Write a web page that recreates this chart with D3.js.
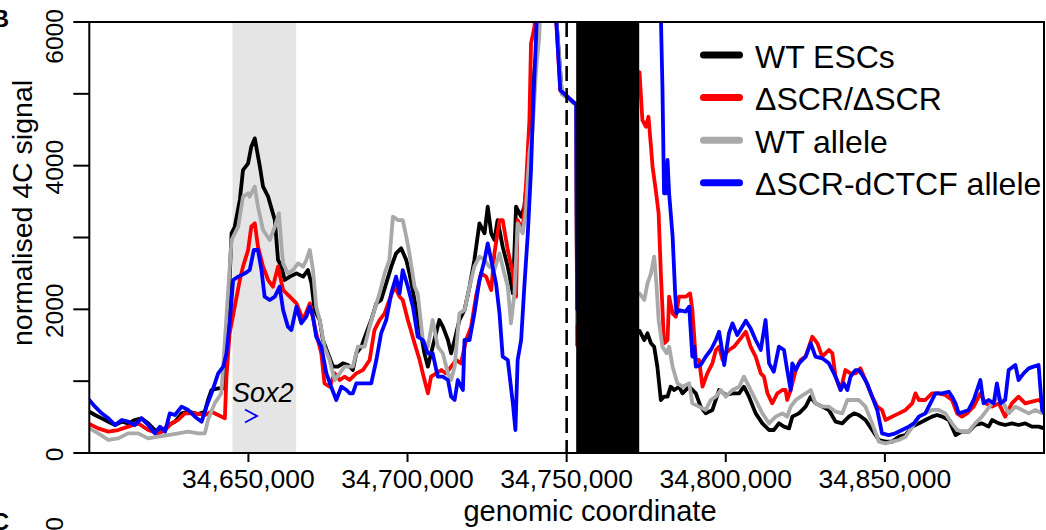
<!DOCTYPE html>
<html><head><meta charset="utf-8">
<script src="https://cdn.jsdelivr.net/npm/d3@7"></script>
<style>html,body{margin:0;padding:0;background:#fff}svg{display:block}text{font-family:"Liberation Sans",Arial,Helvetica,sans-serif;fill:#000}</style>
</head><body><svg id="chart" width="1046" height="530"></svg>
<script>
// ---- data ----
const REGION_START = 34600000, REGION_END = 34900000; // genomic window
const xTickValues = [34650000, 34700000, 34750000, 34800000, 34850000];
const xTickLabels = ["34,650,000", "34,700,000", "34,750,000", "34,800,000", "34,850,000"];
const yTickValues = [0, 1000, 2000, 3000, 4000, 5000, 6000];
const yTickLabels = ["0", "", "2000", "", "4000", "", "6000"];
const sox2Region = [34645000, 34665000];
const deletedRegion = [34753000, 34772800];
const viewpoint = 34750000;
const seriesNames = ["WT ESCs", "\u0394SCR/\u0394SCR", "WT allele", "\u0394SCR-dCTCF allele"];
const seriesColors = ["#000000", "#ff0000", "#a9a9a9", "#0000ff"];

// [kb offset from REGION_START, normalised 4C signal]
const wtEscs = [[0,575],[1.8,529],[3.9,482],[6.0,436],[8.1,390],[10.2,436],[12.2,413],[14.3,459],[16.4,482],[18.5,413],[20.6,320],[22.7,297],[24.8,390],[26.9,436],[29.0,552],[31.1,575],[34.2,543],[36.3,575],[37.3,738],[38.4,877],[40.5,900],[42.6,900],[43.6,1900],[44.7,3058],[45.7,3150],[47.3,3522],[48.3,3939],[49.9,4032],[50.9,4264],[52.0,4380],[53.6,3986],[54.6,3707],[56.2,3568],[57.7,3336],[58.3,3243],[59.3,2687],[60.4,2594],[61.4,2408],[63.0,2455],[65.1,2501],[67.2,2455],[68.7,2547],[69.8,2362],[70.8,1990],[72.4,1851],[73.4,1573],[75.0,1387],[76.6,1202],[78.1,1202],[79.7,1248],[81.3,1225],[82.8,1155],[83.9,1387],[85.5,1480],[87.0,1666],[88.6,1851],[90.2,2083],[91.7,2130],[93.3,2362],[94.9,2594],[96.4,2779],[98.0,2849],[99.6,2687],[100.6,2501],[102.2,2130],[103.8,1759],[105.3,1387],[106.4,1202],[107.9,1480],[110.0,1851],[111.1,1759],[112.7,1573],[113.7,1387],[114.8,1573],[116.3,1851],[117.9,1991],[119.5,2315],[121.0,2687],[122.6,3197],[124.2,3058],[125.2,3429],[126.3,3058],[127.3,2965],[128.3,3243],[129.9,2872],[131.5,2594],[133.1,2222],[134.1,3429],[135.7,3290],[136.7,3429],[137.8,3893],[138.8,4635],[139.9,5331],[140.9,5749],[141.9,6500],[143,9000],[145,9000],[146.5,6200],[148.5,5000],[153,4850],[153.3,1800],[172.9,1700],[174.4,1573],[175.4,1666],[176.5,1527],[177.5,1480],[178.5,1202],[179.6,738],[180.6,784],[181.7,784],[182.7,923],[183.8,877],[185.3,923],[186.4,830],[188.5,923],[190.6,830],[192.1,645],[193.7,552],[195.8,599],[197.9,877],[200.0,807],[202.1,830],[204.2,830],[205.7,923],[207.3,784],[209.4,552],[211.5,413],[213.6,320],[215.1,320],[216.7,413],[218.3,367],[219.9,343],[220.9,506],[223.0,552],[225.1,645],[226.7,784],[228.2,691],[230.3,645],[232.4,599],[234.5,436],[236.6,413],[238.7,506],[240.3,552],[241.8,529],[243.9,459],[246.0,320],[248.1,181],[250.2,158],[252.3,158],[254.4,227],[256.5,250],[258.6,367],[260.7,413],[262.7,459],[264.8,506],[266.4,529],[268.0,506],[270.1,459],[272.2,250],[274.2,297],[276.3,297],[278.4,390],[280.5,413],[282.6,367],[283.7,459],[285.8,413],[287.8,390],[289.9,413],[292.0,390],[294.1,413],[296.2,367],[298.3,367],[300,343]];

const dScr = [[0,404],[2.8,343],[6.0,297],[9.1,320],[12.2,367],[15.4,413],[18.5,320],[21.7,274],[23.8,320],[25.8,413],[27.9,459],[30.0,552],[33.2,552],[36.3,529],[38.4,575],[40.5,529],[42.6,482],[43.1,1063],[44.1,1666],[45.7,2037],[47.3,2408],[48.3,2594],[49.9,2826],[50.9,3150],[52.0,3197],[53.0,2872],[54.6,2594],[56.2,2408],[57.7,2315],[59.3,2594],[60.9,2269],[63.0,2176],[65.1,2083],[67.2,1851],[69.3,2083],[71.3,1666],[72.9,1387],[73.9,970],[75.5,923],[77.1,1109],[78.7,1016],[80.2,1062],[81.8,1016],[83.9,1109],[86.0,1155],[88.1,1295],[89.6,1712],[91.2,1851],[92.8,1944],[94.3,2130],[95.9,2315],[97.5,2176],[98.5,2130],[100.1,1851],[101.1,1700],[102.2,1527],[103.8,1295],[104.8,1109],[106.4,831],[107.4,1063],[109.0,1109],[110.6,1155],[112.1,1109],[113.7,1202],[115.3,1295],[116.8,1248],[118.4,1573],[120.0,1759],[121.5,2176],[123.1,2501],[124.7,2455],[126.3,2269],[127.3,2779],[128.9,3243],[129.9,3243],[131.5,2826],[133.1,2501],[134.1,2176],[134.6,3243],[136.2,3104],[137.2,3707],[138.3,4635],[138.8,5703],[139.9,5935],[140.4,6500],[142,9000],[145,9000],[146.5,6200],[148.0,5050],[153,4850],[153.3,1500],[172.9,5300],[173.8,4635],[174.9,4542],[175.7,4681],[176.5,4264],[177.0,3986],[178.0,3661],[178.9,3336],[179.6,2501],[180.6,1527],[181.7,1573],[182.2,2176],[183.3,1944],[184.3,1898],[185.3,2176],[187.4,2176],[188.8,2222],[189.5,1990],[190.6,1295],[191.6,1295],[192.7,923],[194.2,1109],[195.8,1248],[196.9,1434],[197.9,1480],[199.0,1295],[200.0,1387],[201.0,1434],[202.6,1480],[204.7,1596],[206.3,1689],[207.8,1480],[209.4,1341],[211.0,1109],[212.0,1063],[213.1,831],[214.6,691],[216.2,830],[217.8,877],[218.8,877],[219.3,738],[220.4,877],[222.0,1155],[223.5,1295],[225.1,1341],[227.2,1619],[228.8,1527],[230.3,1341],[232.4,1434],[233.5,1387],[234.5,1063],[236.1,877],[237.6,1155],[239.2,1109],[240.8,1109],[242.3,1178],[243.9,1016],[246.0,784],[247.6,645],[249.1,599],[250.2,459],[252.3,506],[254.4,552],[256.5,599],[258.6,691],[259.6,830],[260.7,738],[262.7,738],[264.8,830],[266.9,830],[269.0,807],[271.1,738],[272.7,552],[274.2,506],[275.8,552],[277.9,645],[280.0,830],[281.6,691],[283.7,645],[285.8,691],[287.8,506],[289.9,691],[292.0,784],[294.1,691],[296.2,714],[298.3,738],[300,691]];

const wtAllele = [[0,343],[2.8,274],[6.0,181],[9.1,204],[12.2,274],[15.4,274],[18.5,204],[21.7,227],[24.8,250],[27.9,274],[31.1,297],[34.2,274],[36.3,274],[37.3,459],[39.4,691],[41.5,831],[43.1,1898],[44.7,2965],[46.8,3150],[48.3,3568],[49.9,3615],[50.4,3568],[52.0,3707],[53.0,3429],[54.6,3104],[56.7,2965],[58.3,3150],[59.6,3336],[60.4,2872],[60.9,2640],[62.4,2501],[64.0,2547],[65.6,2640],[67.2,2594],[68.2,2687],[69.3,2826],[70.3,2547],[71.3,2037],[72.4,1851],[73.9,1480],[75.5,1295],[77.1,1016],[78.7,1109],[80.2,1202],[81.8,1202],[82.8,1202],[84.4,1480],[86.5,1480],[88.1,1759],[89.6,1990],[91.2,2222],[92.8,2501],[94.3,2687],[95.4,3290],[97.0,3243],[98.5,3243],[99.6,3011],[100.6,2779],[102.2,2315],[103.2,2222],[104.8,1573],[106.4,1480],[107.9,1851],[109.5,1480],[111.1,1387],[112.7,1109],[113.7,1016],[114.8,1202],[116.3,1944],[117.9,1990],[119.5,2315],[121.0,2594],[122.6,2733],[124.2,2687],[125.7,2594],[127.3,2547],[128.9,2779],[130.4,2501],[131.5,2315],[132.5,1805],[133.6,2222],[134.6,3197],[136.2,3058],[137.2,3383],[138.3,4171],[139.3,4496],[140.4,5331],[141.4,5795],[141.9,6500],[143,9000],[145,9000],[146.5,6200],[148.5,5000],[153,4850],[153.3,1800],[172.9,2222],[174.4,2130],[175.4,2362],[176.5,2501],[177.5,2733],[178.2,2362],[178.9,1851],[180.1,1480],[181.4,1387],[182.2,1480],[183.3,1202],[184.8,970],[186.4,923],[188.5,970],[189.5,691],[191.6,645],[193.7,599],[195.3,738],[196.9,784],[198.4,877],[200.0,784],[202.1,877],[204.2,923],[205.7,1063],[207.3,923],[209.4,738],[211.5,552],[213.6,413],[215.7,506],[217.8,552],[219.3,506],[220.4,645],[222.0,738],[223.5,784],[225.1,830],[226.7,877],[228.2,691],[230.3,645],[232.4,645],[234.5,575],[236.6,552],[238.2,738],[239.7,738],[241.8,738],[243.9,645],[246.0,413],[248.1,158],[250.2,135],[252.3,158],[254.4,181],[256.5,227],[258.6,367],[260.7,506],[262.7,552],[264.8,599],[266.9,599],[269.0,552],[271.1,413],[272.7,320],[274.2,297],[276.3,297],[278.4,413],[280.5,506],[282.1,599],[283.7,691],[285.8,784],[287.3,691],[288.9,552],[291.0,645],[293.1,599],[295.2,552],[297.3,599],[299.4,552],[300,560]];

const dScrDctcf = [[0,738],[1.8,645],[3.9,552],[6.0,482],[8.1,390],[10.2,459],[12.2,436],[14.3,390],[16.4,482],[18.5,390],[20.6,274],[22.2,367],[23.8,297],[25.3,552],[26.9,529],[29.0,645],[31.1,599],[33.2,506],[35.3,436],[36.8,645],[38.4,831],[40.5,1109],[42.1,1202],[43.1,1387],[44.1,1805],[45.2,2408],[46.8,2455],[48.9,2501],[50.4,2547],[51.7,2826],[53.0,2826],[54.1,2547],[55.1,2176],[56.7,2130],[58.3,2176],[59.8,2315],[60.9,1990],[62.4,1759],[63.5,1712],[65.1,2037],[66.6,1805],[68.2,1898],[69.3,2037],[70.3,1898],[71.3,1619],[72.9,1480],[74.5,1109],[76.0,923],[77.6,738],[79.2,923],[80.8,877],[81.8,831],[82.8,831],[83.9,970],[85.5,970],[87.0,970],[88.6,970],[90.2,1295],[91.7,1666],[93.3,1851],[94.9,2222],[96.4,2455],[97.5,2222],[98.5,2547],[100.1,2315],[101.7,2037],[103.2,1619],[104.8,1573],[106.4,1387],[107.9,1387],[109.5,1063],[111.1,1063],[112.7,1016],[113.7,784],[114.8,738],[115.8,1016],[117.4,877],[117.9,1573],[119.5,1573],[121.0,1944],[122.6,2408],[124.2,2687],[125.2,2918],[126.3,2687],[127.8,2362],[128.9,1944],[129.9,1341],[131.5,1295],[133.1,691],[133.9,320],[134.6,1295],[135.7,1573],[136.7,2315],[137.8,3058],[138.8,3939],[139.5,4867],[140.4,5795],[140.9,6500],[142,9000],[145,9000],[146.5,6200],[148.0,5050],[153,4850],[153.3,2000],[172.9,9000],[179.0,9000],[179.6,6100],[180.1,5099],[180.6,3615],[181.2,3615],[181.7,4079],[182.2,3615],[183.3,3011],[184.1,2222],[184.5,1944],[185.3,1990],[187.4,1967],[188.5,2037],[189.5,1341],[190.1,1480],[190.6,1202],[192.1,1225],[193.7,1341],[195.3,1434],[196.9,1573],[197.9,1689],[199.0,1387],[199.5,1225],[201.0,1666],[202.1,1805],[203.6,1643],[205.2,1759],[206.3,1842],[207.8,1735],[209.4,1573],[211.0,1434],[212.5,1851],[213.6,1248],[215.1,1132],[216.7,1480],[218.3,1434],[219.3,1155],[220.4,877],[220.9,1248],[222.0,1155],[223.0,1248],[225.1,1341],[226.7,1527],[228.2,1341],[230.3,1318],[232.4,1248],[234.5,1063],[236.1,877],[237.1,970],[238.2,877],[239.2,1063],[240.8,1155],[241.8,1155],[242.9,1086],[244.4,970],[246.0,784],[247.6,599],[249.1,274],[251.2,250],[253.3,274],[255.4,320],[257.5,367],[259.1,413],[260.7,506],[262.7,552],[264.3,691],[265.9,830],[268.0,830],[270.1,853],[271.1,784],[272.2,691],[273.2,552],[274.8,575],[276.3,599],[277.9,738],[280.0,1016],[281.0,691],[282.6,738],[284.2,691],[285.2,970],[286.3,691],[287.8,738],[288.9,1155],[291.0,1225],[292.0,1016],[293.6,1109],[295.2,1178],[296.7,1202],[298.3,1225],[299.4,599],[300,560]];

const allSeries = [wtEscs, dScr, wtAllele, dScrDctcf];

// ---- layout ----
const svg = d3.select("#chart");
const L = 89.3, R = 1044, T = 22, B = 453;
const x = d3.scaleLinear().domain([REGION_START, REGION_END]).range([L, R]);
const y = d3.scaleLinear().domain([0, 6000]).range([B, T]);

svg.append("rect").attr("width", 1046).attr("height", 530).attr("fill", "#fff");

svg.append("defs").append("clipPath").attr("id", "plotclip")
  .append("rect").attr("x", L).attr("y", T).attr("width", R - L).attr("height", B - T);

const plot = svg.append("g").attr("clip-path", "url(#plotclip)");

// Sox2 shaded region
plot.append("rect")
  .attr("x", x(sox2Region[0])).attr("y", T)
  .attr("width", x(sox2Region[1]) - x(sox2Region[0])).attr("height", B - T)
  .attr("fill", "#e5e5e5");

const line = d3.line()
  .x(d => x(REGION_START + d[0] * 1000))
  .y(d => y(d[1]));

allSeries.forEach((s, i) => {
  plot.append("path").datum(s)
    .attr("d", line)
    .attr("fill", "none")
    .attr("stroke", seriesColors[i])
    .attr("stroke-width", 3.8)
    .attr("stroke-linejoin", "round")
    .attr("stroke-linecap", "round");
});

// deleted / masked region (black block)
plot.append("rect")
  .attr("x", x(deletedRegion[0])).attr("y", T)
  .attr("width", x(deletedRegion[1]) - x(deletedRegion[0])).attr("height", B - T)
  .attr("fill", "#000");

// viewpoint dashed line
plot.append("line")
  .attr("x1", x(viewpoint)).attr("x2", x(viewpoint))
  .attr("y1", T).attr("y2", B)
  .attr("stroke", "#000").attr("stroke-width", 2.6)
  .attr("stroke-dasharray", "15,7");

// Sox2 label and arrow
svg.append("text").attr("x", 232).attr("y", 401.5)
  .attr("font-size", 27).attr("font-style", "italic").text("Sox2");
svg.append("path").attr("d", "M245,409.5 L257,416 L245,422.5")
  .attr("fill", "none").attr("stroke", "#0000ff").attr("stroke-width", 1.8);

// box
svg.append("rect").attr("x", L).attr("y", T).attr("width", R - L).attr("height", B - T)
  .attr("fill", "none").attr("stroke", "#000").attr("stroke-width", 2);

// y axis ticks & labels
const yAx = svg.append("g");
yTickValues.forEach((v, i) => {
  yAx.append("line").attr("x1", L - 16).attr("x2", L).attr("y1", y(v)).attr("y2", y(v))
    .attr("stroke", "#000").attr("stroke-width", 2);
  if (yTickLabels[i]) {
    const cy = Math.max(y(v) + 1.5, 36.5);
    yAx.append("text")
      .attr("transform", `translate(62.5,${cy}) rotate(-90)`)
      .attr("text-anchor", "middle").attr("font-size", 24.5)
      .text(yTickLabels[i]);
  }
});

// x axis ticks & labels
const xAx = svg.append("g");
xTickValues.forEach((v, i) => {
  xAx.append("line").attr("x1", x(v)).attr("x2", x(v)).attr("y1", B).attr("y2", B + 9)
    .attr("stroke", "#000").attr("stroke-width", 2);
  xAx.append("text").attr("x", x(v)).attr("y", 488)
    .attr("text-anchor", "middle").attr("font-size", 26.5)
    .text(xTickLabels[i]);
});

// axis titles
svg.append("text").attr("x", 590).attr("y", 521)
  .attr("text-anchor", "middle").attr("font-size", 29).text("genomic coordinate");
svg.append("text").attr("transform", "translate(32,213) rotate(-90)")
  .attr("text-anchor", "middle").attr("font-size", 28.5).text("normalised 4C signal");

// legend
const lg = svg.append("g");
seriesNames.forEach((n, i) => {
  const ly = 55 + i * 42.6;
  lg.append("line").attr("x1", 703.5).attr("x2", 739.5).attr("y1", ly).attr("y2", ly)
    .attr("stroke", seriesColors[i]).attr("stroke-width", 7).attr("stroke-linecap", "round");
  lg.append("text").attr("x", 755).attr("y", ly + 12.5).attr("font-size", 32).text(n);
});

// panel letters (partially visible)
svg.append("text").attr("x", 9).attr("y", 27).attr("text-anchor", "end")
  .attr("font-size", 24).attr("font-weight", "bold").text("B");
svg.append("text").attr("x", 9).attr("y", 530).attr("text-anchor", "end")
  .attr("font-size", 24).attr("font-weight", "bold").text("C");
svg.append("text").attr("transform", "translate(62.5,544.5) rotate(-90)")
  .attr("text-anchor", "middle").attr("font-size", 24.5).text("6000");
</script></body></html>
